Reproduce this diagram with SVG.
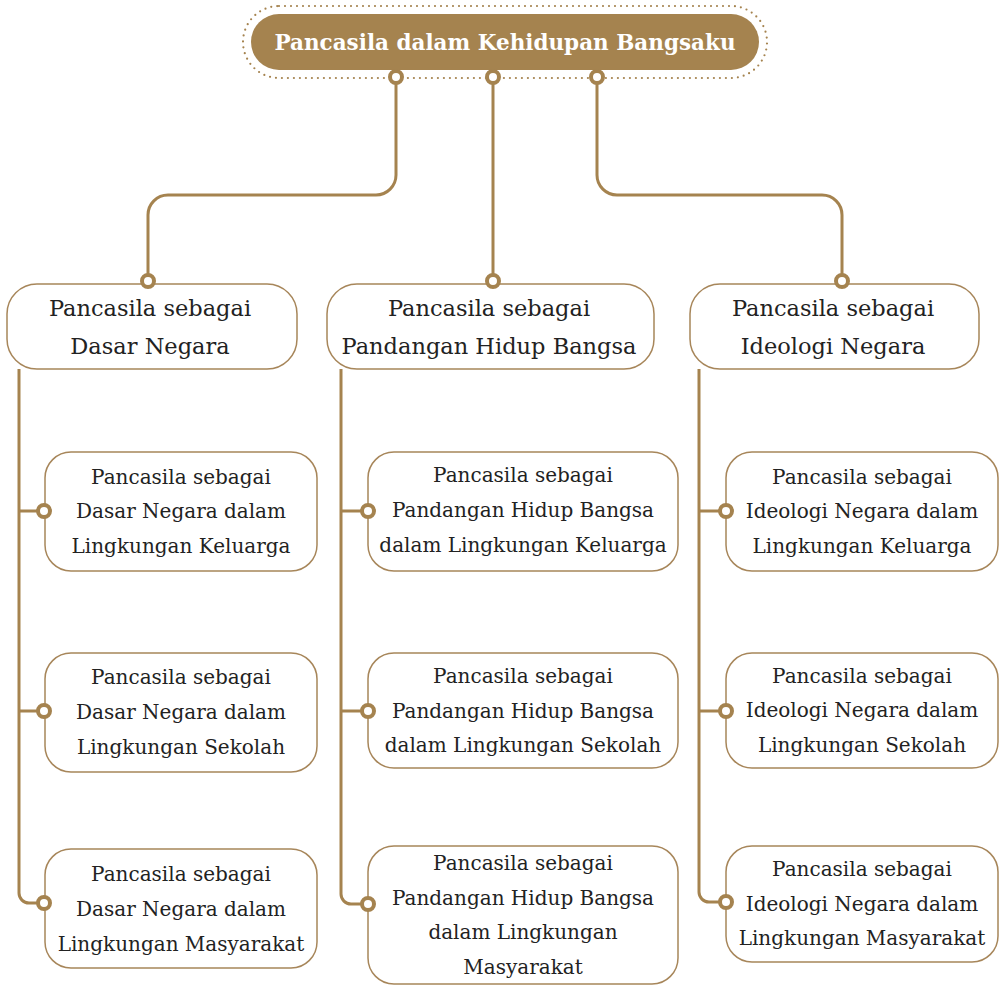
<svg xmlns="http://www.w3.org/2000/svg" width="999" height="986" viewBox="0 0 999 986">
<style>
.box{fill:#fff;stroke:#A7865A;stroke-width:1.5}
.t{font-family:"DejaVu Serif","Liberation Serif",serif;fill:#222;text-anchor:middle;dominant-baseline:central}
.c{font-size:20px}
.p{font-size:22.5px}
.ln{fill:none;stroke:#A5834F;stroke-width:3}
.dot{fill:#fff;stroke:#A5834F;stroke-width:4}
</style>
<rect width="999" height="986" fill="#fff"/>
<g id="connectors">
<path class="ln" d="M396 83V175a20 20 0 0 1 -20 20H168a20 20 0 0 0 -20 20V276"/>
<path class="ln" d="M493 83V276"/>
<path class="ln" d="M597 83V175a20 20 0 0 0 20 20H822a20 20 0 0 1 20 20V276"/>
<path class="ln" d="M19 369V893a10 10 0 0 0 10 10H39M19 511H39M19 711H39"/>
<path class="ln" d="M341 369V894a10 10 0 0 0 10 10H363M341 511H363M341 711H363"/>
<path class="ln" d="M699 369V892a10 10 0 0 0 10 10H721M699 511H721M699 711H721"/>
</g>
<g id="root">
<rect x="243" y="6" width="524" height="72" rx="36" fill="none" stroke="#A5834F" stroke-width="2.2" stroke-dasharray="0 6" stroke-linecap="round"/>
<rect x="251" y="14" width="508" height="56" rx="28" fill="#A5834F"/>
<text class="t" x="505" y="42" font-size="21.5" font-weight="bold" style="fill:#fff">Pancasila dalam Kehidupan Bangsaku</text>
<circle class="dot" cx="396" cy="77" r="6"/>
<circle class="dot" cx="493" cy="77" r="6"/>
<circle class="dot" cx="597" cy="77" r="6"/>
</g>
<g id="n1">
<rect class="box" x="7" y="284" width="290" height="85" rx="30"/>
<text class="t p" x="150" y="308">Pancasila sebagai</text>
<text class="t p" x="150" y="346">Dasar Negara</text>
<circle class="dot" cx="148" cy="281" r="6"/>
</g>
<g id="n2">
<rect class="box" x="327" y="284" width="327" height="85" rx="30"/>
<text class="t p" x="489" y="308">Pancasila sebagai</text>
<text class="t p" x="489" y="346">Pandangan Hidup Bangsa</text>
<circle class="dot" cx="493" cy="281" r="6"/>
</g>
<g id="n3">
<rect class="box" x="690" y="284" width="289" height="85" rx="30"/>
<text class="t p" x="833" y="308">Pancasila sebagai</text>
<text class="t p" x="833" y="346">Ideologi Negara</text>
<circle class="dot" cx="842" cy="281" r="6"/>
</g>
<g id="n1a">
<rect class="box" x="45" y="452" width="272" height="119" rx="26"/>
<text class="t c" x="181" y="477">Pancasila sebagai</text>
<text class="t c" x="181" y="511">Dasar Negara dalam</text>
<text class="t c" x="181" y="546">Lingkungan Keluarga</text>
<circle class="dot" cx="44" cy="511" r="6"/>
</g>
<g id="n1b">
<rect class="box" x="45" y="653" width="272" height="119" rx="26"/>
<text class="t c" x="181" y="677">Pancasila sebagai</text>
<text class="t c" x="181" y="712">Dasar Negara dalam</text>
<text class="t c" x="181" y="747">Lingkungan Sekolah</text>
<circle class="dot" cx="44" cy="711" r="6"/>
</g>
<g id="n1c">
<rect class="box" x="45" y="849" width="272" height="119" rx="26"/>
<text class="t c" x="181" y="874">Pancasila sebagai</text>
<text class="t c" x="181" y="909">Dasar Negara dalam</text>
<text class="t c" x="181" y="944">Lingkungan Masyarakat</text>
<circle class="dot" cx="44" cy="903" r="6"/>
</g>
<g id="n2a">
<rect class="box" x="368" y="452" width="310" height="119" rx="26"/>
<text class="t c" x="523" y="475">Pancasila sebagai</text>
<text class="t c" x="523" y="510">Pandangan Hidup Bangsa</text>
<text class="t c" x="523" y="545">dalam Lingkungan Keluarga</text>
<circle class="dot" cx="368" cy="511" r="6"/>
</g>
<g id="n2b">
<rect class="box" x="368" y="653" width="310" height="115" rx="26"/>
<text class="t c" x="523" y="676">Pancasila sebagai</text>
<text class="t c" x="523" y="711">Pandangan Hidup Bangsa</text>
<text class="t c" x="523" y="745">dalam Lingkungan Sekolah</text>
<circle class="dot" cx="368" cy="711" r="6"/>
</g>
<g id="n2c">
<rect class="box" x="368" y="846" width="310" height="138" rx="26"/>
<text class="t c" x="523" y="863">Pancasila sebagai</text>
<text class="t c" x="523" y="898">Pandangan Hidup Bangsa</text>
<text class="t c" x="523" y="932">dalam Lingkungan</text>
<text class="t c" x="523" y="967">Masyarakat</text>
<circle class="dot" cx="368" cy="904" r="6"/>
</g>
<g id="n3a">
<rect class="box" x="726" y="452" width="272" height="119" rx="26"/>
<text class="t c" x="862" y="477">Pancasila sebagai</text>
<text class="t c" x="862" y="511">Ideologi Negara dalam</text>
<text class="t c" x="862" y="546">Lingkungan Keluarga</text>
<circle class="dot" cx="726" cy="511" r="6"/>
</g>
<g id="n3b">
<rect class="box" x="726" y="653" width="272" height="115" rx="26"/>
<text class="t c" x="862" y="676">Pancasila sebagai</text>
<text class="t c" x="862" y="710">Ideologi Negara dalam</text>
<text class="t c" x="862" y="745">Lingkungan Sekolah</text>
<circle class="dot" cx="726" cy="711" r="6"/>
</g>
<g id="n3c">
<rect class="box" x="726" y="846" width="272" height="116" rx="26"/>
<text class="t c" x="862" y="869">Pancasila sebagai</text>
<text class="t c" x="862" y="904">Ideologi Negara dalam</text>
<text class="t c" x="862" y="938">Lingkungan Masyarakat</text>
<circle class="dot" cx="726" cy="902" r="6"/>
</g>
</svg>
